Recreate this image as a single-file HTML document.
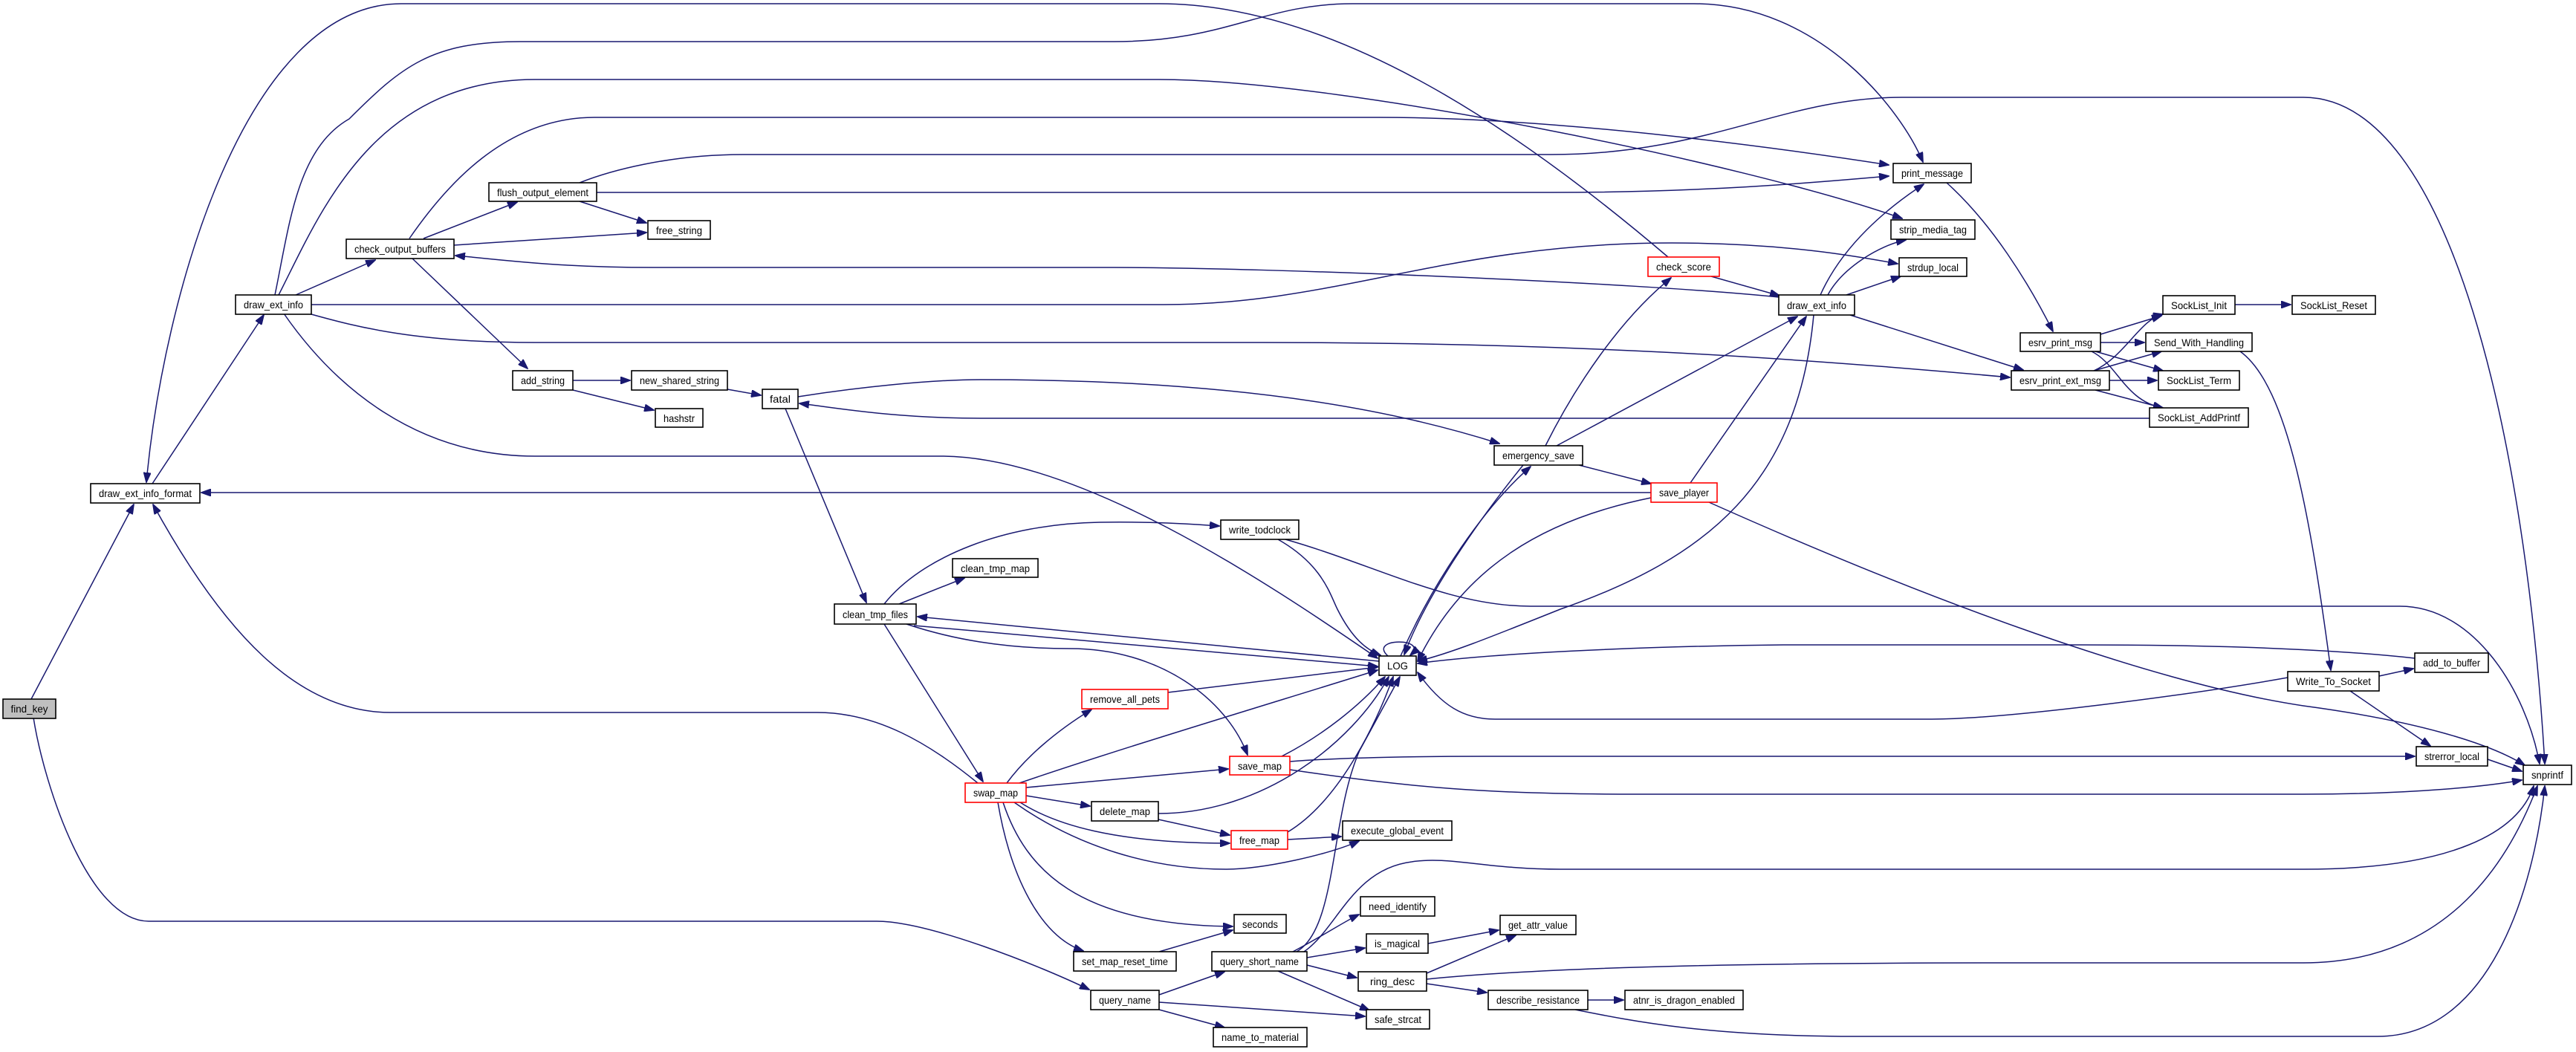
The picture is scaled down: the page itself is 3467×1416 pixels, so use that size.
<!DOCTYPE html>
<html><head><meta charset="utf-8"><style>
html,body{margin:0;padding:0;background:#fff;}
svg{display:block;}
.e{fill:none;stroke:#191970;stroke-width:1.5;marker-end:url(#a);}
.n{fill:#fff;stroke:#000;stroke-width:1.6;}
.r{fill:#fff;stroke:#ff0000;stroke-width:1.6;}
text{font-family:"Liberation Sans",sans-serif;font-size:14px;fill:#000;text-anchor:middle;}
</style></head><body>
<svg width="3467" height="1416" viewBox="0 0 3467 1416" xmlns="http://www.w3.org/2000/svg">
<defs><marker id="a" markerWidth="14" markerHeight="10" refX="13" refY="5" orient="auto" markerUnits="userSpaceOnUse"><path d="M0,0 L14,5 L0,10 z" fill="#191970" stroke="#191970"/></marker></defs>
<g>
<path class="e" d="M 42,941 L 180,679"/>
<path class="e" d="M 45,966 C 60,1060 120,1240 200,1240 L 1180,1240 C 1250,1240 1400,1300 1466,1332"/>
<path class="e" d="M 205,651 L 355,424"/>
<path class="e" d="M 2245,346 C 2050,180 1800,5 1560,5 L 540,5 C 330,5 220,400 197,649"/>
<path class="e" d="M 398,397 L 505,350"/>
<path class="e" d="M 370,397 C 390,300 400,200 470,160 C 540,90 580,56 700,56 L 1500,56 C 1650,56 1700,5 1820,5 L 2280,5 C 2450,5 2560,150 2588,218"/>
<path class="e" d="M 375,397 C 430,290 500,107 720,107 L 1560,107 C 1800,107 2350,220 2560,294"/>
<path class="e" d="M 419,410 L 1566,410 C 1800,410 1950,327 2250,327 C 2400,327 2500,345 2554,355"/>
<path class="e" d="M 419,423 C 480,440 560,461 720,461 L 1700,461 C 2100,461 2400,480 2705,508"/>
<path class="e" d="M 382,422 C 450,520 560,614 720,614 L 1266,614 C 1450,614 1700,780 1854,886"/>
<path class="e" d="M 570,321 L 696,272"/>
<path class="e" d="M 611,330 L 870,313"/>
<path class="e" d="M 555,348 L 710,496"/>
<path class="e" d="M 551,321 C 600,250 680,158 800,158 L 1856,158 C 2100,158 2400,200 2542,222"/>
<path class="e" d="M 2394,400 C 2200,380 1700,360 1500,360 L 880,360 C 750,360 680,350 613,344"/>
<path class="e" d="M 780,271 L 870,300"/>
<path class="e" d="M 780,246 C 820,230 900,208 1000,208 L 2088,208 C 2300,208 2400,131 2560,131 L 3100,131 C 3300,131 3400,600 3425,1028"/>
<path class="e" d="M 803,259 L 2088,259 C 2300,259 2450,245 2542,237"/>
<path class="e" d="M 771,512 L 848,512"/>
<path class="e" d="M 771,525 L 880,552"/>
<path class="e" d="M 979,524 L 1024,532"/>
<path class="e" d="M 1057,550 L 1166,811"/>
<path class="e" d="M 1074,534 C 1150,522 1250,511 1320,511 C 1700,511 1900,560 2018,597"/>
<path class="e" d="M 2893,563 L 1320,563 C 1200,563 1120,548 1076,543"/>
<path class="e" d="M 1190,813 C 1240,750 1350,705 1480,703 C 1550,702 1600,705 1641,708"/>
<path class="e" d="M 1210,813 L 1298,778"/>
<path class="e" d="M 1230,842 L 1854,897"/>
<path class="e" d="M 1220,840 C 1280,860 1350,873 1440,873 C 1560,873 1650,940 1679,1016"/>
<path class="e" d="M 1190,840 L 1323,1052"/>
<path class="e" d="M 1856,890 L 1235,830"/>
<path class="e" d="M 1868,883 C 1840,858 1925,858 1898,882"/>
<path class="e" d="M 1885,883 C 1930,780 2000,680 2060,628"/>
<path class="e" d="M 2050,626 C 1990,700 1920,800 1890,881"/>
<path class="e" d="M 2080,600 C 2120,520 2180,430 2249,374"/>
<path class="e" d="M 2095,600 L 2419,426"/>
<path class="e" d="M 2125,626 L 2222,651"/>
<path class="e" d="M 2275,650 L 2431,426"/>
<path class="e" d="M 2222,663 L 271,663"/>
<path class="e" d="M 2222,670 C 2078,699 1970,763 1908,890"/>
<path class="e" d="M 2300,676 C 2600,810 2900,920 3100,950 C 3250,970 3350,1000 3398,1030"/>
<path class="e" d="M 2303,372 L 2395,398"/>
<path class="e" d="M 2450,397 C 2480,330 2540,280 2589,248"/>
<path class="e" d="M 2460,397 C 2480,360 2530,330 2565,323"/>
<path class="e" d="M 2485,397 L 2558,372"/>
<path class="e" d="M 2490,424 L 2723,498"/>
<path class="e" d="M 2441,424 C 2420,650 2300,750 2100,820 C 2000,860 1950,880 1908,890"/>
<path class="e" d="M 2620,246 C 2680,300 2730,380 2763,446"/>
<path class="e" d="M 2827,450 L 2909,425"/>
<path class="e" d="M 2827,461 L 2886,461"/>
<path class="e" d="M 2820,473 L 2911,499"/>
<path class="e" d="M 2815,473 C 2850,490 2860,540 2911,549"/>
<path class="e" d="M 2818,499 C 2860,480 2880,430 2911,423"/>
<path class="e" d="M 2818,499 L 2909,473"/>
<path class="e" d="M 2839,512 L 2903,512"/>
<path class="e" d="M 2820,525 L 2911,549"/>
<path class="e" d="M 3008,410 L 3083,410"/>
<path class="e" d="M 3015,473 C 3080,520 3110,700 3137,902"/>
<path class="e" d="M 3202,910 L 3248,900"/>
<path class="e" d="M 3163,930 L 3271,1004"/>
<path class="e" d="M 3079,912 C 2950,935 2700,968 2600,968 L 2012,968 C 1970,968 1940,950 1908,905"/>
<path class="e" d="M 3250,886 C 3150,875 3000,868 2800,868 L 2400,868 C 2200,870 2000,880 1908,893"/>
<path class="e" d="M 3348,1022 L 3394,1038"/>
<path class="e" d="M 1736,1025 C 1800,1020 1900,1018 2000,1018 L 3250,1018"/>
<path class="e" d="M 1736,1036 C 1900,1060 2000,1069 2200,1069 L 3100,1069 C 3250,1069 3350,1058 3394,1050"/>
<path class="e" d="M 1730,726 C 1850,760 1950,816 2060,816 L 3230,816 C 3330,816 3400,930 3418,1028"/>
<path class="e" d="M 1720,726 C 1780,760 1790,800 1800,820 C 1820,860 1840,875 1858,882"/>
<path class="e" d="M 1572,932 L 1854,898"/>
<path class="e" d="M 1355,1054 C 1380,1020 1420,985 1469,955"/>
<path class="e" d="M 1372,1054 C 1500,1010 1700,950 1854,902"/>
<path class="e" d="M 1381,1060 L 1653,1035"/>
<path class="e" d="M 1381,1071 L 1467,1085"/>
<path class="e" d="M 1373,1080 C 1420,1110 1500,1135 1655,1135"/>
<path class="e" d="M 1365,1080 C 1450,1140 1550,1170 1650,1170 C 1700,1170 1790,1150 1829,1132"/>
<path class="e" d="M 1350,1080 C 1380,1170 1450,1245 1659,1247"/>
<path class="e" d="M 1343,1080 C 1360,1180 1400,1260 1458,1280"/>
<path class="e" d="M 1316,1054 C 1250,1000 1180,959 1100,959 L 526,959 C 400,959 300,850 206,679"/>
<path class="e" d="M 1725,1018 C 1780,990 1830,950 1864,911"/>
<path class="e" d="M 1559,1095 C 1700,1095 1820,1000 1869,911"/>
<path class="e" d="M 1559,1103 L 1655,1124"/>
<path class="e" d="M 1733,1120 C 1800,1080 1850,980 1875,911"/>
<path class="e" d="M 1733,1130 L 1805,1126"/>
<path class="e" d="M 1560,1281 L 1659,1252"/>
<path class="e" d="M 1745,1281 C 1800,1250 1790,1100 1830,1010 L 1884,911"/>
<path class="e" d="M 1755,1281 C 1800,1250 1820,1170 1900,1160 C 1950,1152 2000,1170 2100,1170 L 3100,1170 C 3300,1170 3390,1120 3410,1058"/>
<path class="e" d="M 1740,1281 C 1780,1260 1810,1240 1829,1231"/>
<path class="e" d="M 1759,1289 L 1837,1276"/>
<path class="e" d="M 1759,1299 L 1826,1316"/>
<path class="e" d="M 1720,1307 L 1843,1360"/>
<path class="e" d="M 1560,1339 L 1648,1308"/>
<path class="e" d="M 1560,1349 L 1837,1368"/>
<path class="e" d="M 1560,1359 L 1648,1383"/>
<path class="e" d="M 1922,1270 L 2017,1252"/>
<path class="e" d="M 1920,1310 L 2040,1259"/>
<path class="e" d="M 1920,1324 L 2001,1336"/>
<path class="e" d="M 1920,1318 C 2100,1300 2400,1296 2700,1296 L 3100,1296 C 3300,1296 3380,1150 3415,1058"/>
<path class="e" d="M 2137,1346 L 2185,1346"/>
<path class="e" d="M 2120,1359 C 2200,1375 2300,1395 2500,1395 L 3200,1395 C 3350,1395 3410,1200 3425,1058"/>
</g>
<g>
<rect x="4" y="941" width="71" height="26" fill="#bfbfbf" stroke="#000" stroke-width="1.6"/><text x="39.5" y="959" textLength="50" lengthAdjust="spacingAndGlyphs">find_key</text>
<rect class="n" x="122" y="651" width="147" height="26"/><text x="195.5" y="669" textLength="125" lengthAdjust="spacingAndGlyphs">draw_ext_info_format</text>
<rect class="n" x="317" y="397" width="102" height="26"/><text x="368" y="415" textLength="80" lengthAdjust="spacingAndGlyphs">draw_ext_info</text>
<rect class="n" x="466" y="322" width="145" height="26"/><text x="538.5" y="340" textLength="123" lengthAdjust="spacingAndGlyphs">check_output_buffers</text>
<rect class="n" x="658" y="246" width="145" height="25"/><text x="730.5" y="264" textLength="123" lengthAdjust="spacingAndGlyphs">flush_output_element</text>
<rect class="n" x="872" y="297" width="84" height="25"/><text x="914" y="315" textLength="62" lengthAdjust="spacingAndGlyphs">free_string</text>
<rect class="n" x="690" y="499" width="81" height="26"/><text x="730.5" y="517" textLength="59" lengthAdjust="spacingAndGlyphs">add_string</text>
<rect class="n" x="850" y="499" width="129" height="26"/><text x="914.5" y="517" textLength="107" lengthAdjust="spacingAndGlyphs">new_shared_string</text>
<rect class="n" x="882" y="550" width="64" height="25"/><text x="914" y="568" textLength="42" lengthAdjust="spacingAndGlyphs">hashstr</text>
<rect class="n" x="1026" y="524" width="48" height="26"/><text x="1050" y="542" textLength="28" lengthAdjust="spacingAndGlyphs">fatal</text>
<rect class="n" x="1123" y="813" width="110" height="27"/><text x="1178" y="832" textLength="88" lengthAdjust="spacingAndGlyphs">clean_tmp_files</text>
<rect class="n" x="1282" y="752" width="115" height="25"/><text x="1339.5" y="770" textLength="93" lengthAdjust="spacingAndGlyphs">clean_tmp_map</text>
<rect class="n" x="1643" y="700" width="105" height="26"/><text x="1695.5" y="718" textLength="83" lengthAdjust="spacingAndGlyphs">write_todclock</text>
<rect class="n" x="1856" y="883" width="50" height="26"/><text x="1881" y="901" textLength="28" lengthAdjust="spacingAndGlyphs">LOG</text>
<rect class="r" x="1456" y="928" width="116" height="26"/><text x="1514" y="946" textLength="94" lengthAdjust="spacingAndGlyphs">remove_all_pets</text>
<rect class="r" x="1655" y="1018" width="81" height="25"/><text x="1695.5" y="1036" textLength="59" lengthAdjust="spacingAndGlyphs">save_map</text>
<rect class="r" x="1299" y="1054" width="82" height="26"/><text x="1340" y="1072" textLength="60" lengthAdjust="spacingAndGlyphs">swap_map</text>
<rect class="n" x="1469" y="1079" width="90" height="26"/><text x="1514" y="1097" textLength="68" lengthAdjust="spacingAndGlyphs">delete_map</text>
<rect class="r" x="1657" y="1118" width="76" height="25"/><text x="1695" y="1136" textLength="54" lengthAdjust="spacingAndGlyphs">free_map</text>
<rect class="n" x="1807" y="1105" width="147" height="26"/><text x="1880.5" y="1123" textLength="125" lengthAdjust="spacingAndGlyphs">execute_global_event</text>
<rect class="n" x="1661" y="1231" width="70" height="25"/><text x="1696" y="1249" textLength="48" lengthAdjust="spacingAndGlyphs">seconds</text>
<rect class="n" x="1445" y="1281" width="138" height="26"/><text x="1514" y="1299" textLength="116" lengthAdjust="spacingAndGlyphs">set_map_reset_time</text>
<rect class="n" x="1631" y="1281" width="128" height="26"/><text x="1695" y="1299" textLength="106" lengthAdjust="spacingAndGlyphs">query_short_name</text>
<rect class="n" x="1831" y="1207" width="100" height="26"/><text x="1881" y="1225" textLength="78" lengthAdjust="spacingAndGlyphs">need_identify</text>
<rect class="n" x="1839" y="1257" width="83" height="26"/><text x="1880.5" y="1275" textLength="61" lengthAdjust="spacingAndGlyphs">is_magical</text>
<rect class="n" x="2019" y="1232" width="102" height="26"/><text x="2070" y="1250" textLength="80" lengthAdjust="spacingAndGlyphs">get_attr_value</text>
<rect class="n" x="1828" y="1308" width="92" height="26"/><text x="1874" y="1326" textLength="60" lengthAdjust="spacingAndGlyphs">ring_desc</text>
<rect class="n" x="2003" y="1333" width="134" height="26"/><text x="2070" y="1351" textLength="112" lengthAdjust="spacingAndGlyphs">describe_resistance</text>
<rect class="n" x="2187" y="1333" width="159" height="26"/><text x="2266.5" y="1351" textLength="137" lengthAdjust="spacingAndGlyphs">atnr_is_dragon_enabled</text>
<rect class="n" x="1468" y="1333" width="92" height="26"/><text x="1514" y="1351" textLength="70" lengthAdjust="spacingAndGlyphs">query_name</text>
<rect class="n" x="1839" y="1359" width="85" height="26"/><text x="1881.5" y="1377" textLength="63" lengthAdjust="spacingAndGlyphs">safe_strcat</text>
<rect class="n" x="1633" y="1383" width="126" height="26"/><text x="1696" y="1401" textLength="104" lengthAdjust="spacingAndGlyphs">name_to_material</text>
<rect class="n" x="2011" y="600" width="119" height="26"/><text x="2070.5" y="618" textLength="97" lengthAdjust="spacingAndGlyphs">emergency_save</text>
<rect class="r" x="2222" y="650" width="89" height="26"/><text x="2266.5" y="668" textLength="67" lengthAdjust="spacingAndGlyphs">save_player</text>
<rect class="r" x="2218" y="346" width="96" height="26"/><text x="2266" y="364" textLength="74" lengthAdjust="spacingAndGlyphs">check_score</text>
<rect class="n" x="2548" y="220" width="105" height="26"/><text x="2600.5" y="238" textLength="83" lengthAdjust="spacingAndGlyphs">print_message</text>
<rect class="n" x="2545" y="296" width="113" height="26"/><text x="2601.5" y="314" textLength="91" lengthAdjust="spacingAndGlyphs">strip_media_tag</text>
<rect class="n" x="2556" y="347" width="91" height="25"/><text x="2601.5" y="365" textLength="69" lengthAdjust="spacingAndGlyphs">strdup_local</text>
<rect class="n" x="2394" y="397" width="102" height="27"/><text x="2445" y="416" textLength="80" lengthAdjust="spacingAndGlyphs">draw_ext_info</text>
<rect class="n" x="2719" y="448" width="108" height="25"/><text x="2773" y="466" textLength="86" lengthAdjust="spacingAndGlyphs">esrv_print_msg</text>
<rect class="n" x="2707" y="499" width="132" height="26"/><text x="2773" y="517" textLength="110" lengthAdjust="spacingAndGlyphs">esrv_print_ext_msg</text>
<rect class="n" x="2911" y="398" width="97" height="25"/><text x="2959.5" y="416" textLength="75" lengthAdjust="spacingAndGlyphs">SockList_Init</text>
<rect class="n" x="3085" y="398" width="112" height="25"/><text x="3141" y="416" textLength="90" lengthAdjust="spacingAndGlyphs">SockList_Reset</text>
<rect class="n" x="2888" y="448" width="143" height="25"/><text x="2959.5" y="466" textLength="121" lengthAdjust="spacingAndGlyphs">Send_With_Handling</text>
<rect class="n" x="2905" y="499" width="109" height="26"/><text x="2959.5" y="517" textLength="87" lengthAdjust="spacingAndGlyphs">SockList_Term</text>
<rect class="n" x="2893" y="549" width="133" height="26"/><text x="2959.5" y="567" textLength="111" lengthAdjust="spacingAndGlyphs">SockList_AddPrintf</text>
<rect class="n" x="3250" y="879" width="99" height="26"/><text x="3299.5" y="897" textLength="77" lengthAdjust="spacingAndGlyphs">add_to_buffer</text>
<rect class="n" x="3079" y="904" width="123" height="26"/><text x="3140.5" y="922" textLength="101" lengthAdjust="spacingAndGlyphs">Write_To_Socket</text>
<rect class="n" x="3252" y="1005" width="96" height="26"/><text x="3300" y="1023" textLength="74" lengthAdjust="spacingAndGlyphs">strerror_local</text>
<rect class="n" x="3396" y="1030" width="65" height="26"/><text x="3428.5" y="1048" textLength="43" lengthAdjust="spacingAndGlyphs">snprintf</text>
</g>
</svg>
</body></html>
